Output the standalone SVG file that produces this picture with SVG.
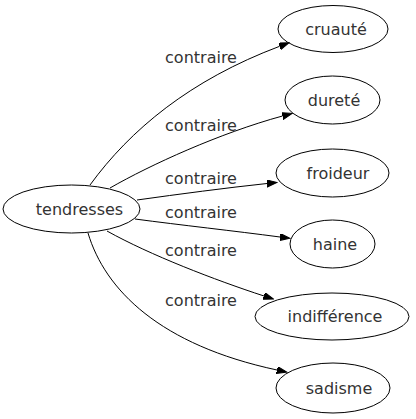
<svg xmlns="http://www.w3.org/2000/svg" width="416" height="419" viewBox="0 0 416 419">
<defs>
<style>
.node ellipse{fill:none;stroke:#000;stroke-width:1}
text{font-family:"DejaVu Sans",sans-serif;font-size:16px;fill:#333;text-anchor:middle}
.edge path{fill:none;stroke:#000;stroke-width:1}
</style>
<marker id="arr" markerUnits="userSpaceOnUse" markerWidth="11" markerHeight="8" refX="0" refY="3.5" orient="auto">
<path d="M0,0 L10,3.5 L0,7 z" fill="#000" stroke="#000" stroke-width="1"/>
</marker>
</defs>
<rect width="416" height="419" fill="#fff"/>
<g id="edges" class="edge">
<path d="M90,185 C130,130 190,80 279.6,46.3" marker-end="url(#arr)"/>
<path d="M110,188 C150,165 220,133 282.5,116" marker-end="url(#arr)"/>
<path d="M137,200 C180,194 225,188 267,183.5" marker-end="url(#arr)"/>
<path d="M135,219 C180,225 235,231 280,237" marker-end="url(#arr)"/>
<path d="M107,231 C150,255 215,280 264,296" marker-end="url(#arr)"/>
<path d="M88,233 C105,290 160,345 277,370" marker-end="url(#arr)"/>
</g>
<g id="labels">
<text x="201" y="62.5">contraire</text>
<text x="201" y="130.5">contraire</text>
<text x="201" y="183.5">contraire</text>
<text x="201" y="217.5">contraire</text>
<text x="201" y="255.5">contraire</text>
<text x="201" y="305.5">contraire</text>
</g>
<g id="tendresses" class="node"><ellipse cx="71.5" cy="209" rx="68.5" ry="24"/><text x="79.5" y="214.5">tendresses</text></g>
<g id="cruaute" class="node"><ellipse cx="333" cy="29" rx="55" ry="23.5"/><text x="336" y="34.5">cruauté</text></g>
<g id="durete" class="node"><ellipse cx="332.5" cy="100" rx="47.5" ry="24"/><text x="334" y="105.5">dureté</text></g>
<g id="froideur" class="node"><ellipse cx="332.5" cy="173" rx="56.5" ry="24"/><text x="338" y="178.5">froideur</text></g>
<g id="haine" class="node"><ellipse cx="332.5" cy="244" rx="42.5" ry="24"/><text x="335" y="249.5">haine</text></g>
<g id="indifference" class="node"><ellipse cx="332" cy="316.5" rx="77" ry="23.5"/><text x="335" y="322">indifférence</text></g>
<g id="sadisme" class="node"><ellipse cx="333" cy="388" rx="57" ry="25"/><text x="339" y="393.5">sadisme</text></g>
</svg>
